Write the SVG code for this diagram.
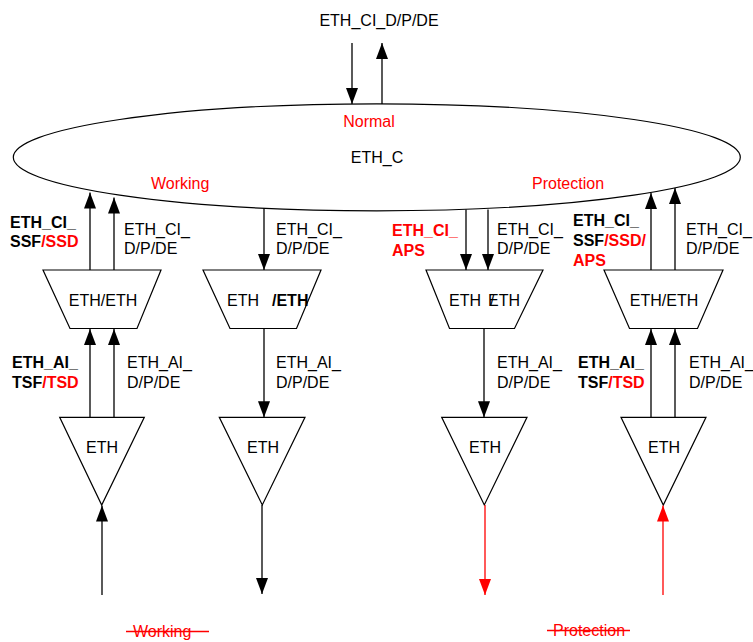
<svg xmlns="http://www.w3.org/2000/svg" width="753" height="642" viewBox="0 0 753 642">
  <style>
    .shape { fill: #ffffff; stroke: #000000; stroke-width: 1.2; }
    .conn { stroke: #000000; stroke-width: 1.3; fill: none; }
    .conn.red { stroke: #ff0000; }
    text { font-family: "Liberation Sans", Arial, sans-serif; font-size: 16px; fill: #000000; }
    .b { font-weight: bold; }
    .r { fill: #ff0000; }
    .mid { text-anchor: middle; }
  </style>
  <defs>
    <marker id="ah" markerUnits="userSpaceOnUse" markerWidth="16" markerHeight="12" viewBox="0 0 16 12" refX="16" refY="6" orient="auto">
      <path d="M0,0 L16,6 L0,12 Z" fill="#000000"/>
    </marker>
    <marker id="ahRed" markerUnits="userSpaceOnUse" markerWidth="16" markerHeight="12" viewBox="0 0 16 12" refX="16" refY="6" orient="auto">
      <path d="M0,0 L16,6 L0,12 Z" fill="#ff0000"/>
    </marker>
  </defs>

  <rect width="753" height="642" fill="#ffffff"/>

  <!-- connection function -->
  <g id="eth-c">
    <ellipse class="shape" cx="376.8" cy="157.3" rx="363.5" ry="53.5"/>
    <text class="mid r" x="369" y="127">Normal</text>
    <text class="mid" x="377" y="163">ETH_C</text>
    <text class="r" x="151" y="189">Working</text>
    <text class="r" x="532" y="189">Protection</text>
  </g>

  <text id="top-label" class="mid" x="379" y="26">ETH_CI_D/P/DE</text>

  <!-- adaptation functions -->
  <g id="adapt-w-sink">
    <polygon class="shape" points="43,270 161,270 137,328.5 70,328.5"/>
    <text class="mid" x="103" y="306">ETH/ETH</text>
  </g>
  <g id="adapt-w-src">
    <polygon class="shape" points="203,270 321,270 296.5,328.5 230,328.5"/>
    <text x="227" y="306">ETH   <tspan class="b" x="272">/ETH</tspan></text>
  </g>
  <g id="adapt-p-src">
    <polygon class="shape" points="426,270 543,270 514.5,328.5 449.5,328.5"/>
    <text x="449" y="306">ETH <tspan x="488">E</tspan><tspan dx="-8.7">/</tspan><tspan dx="4.2">TH</tspan></text>
  </g>
  <g id="adapt-p-sink">
    <polygon class="shape" points="604,270 723,270 697.5,328.5 629.5,328.5"/>
    <text class="mid" x="664" y="306">ETH/ETH</text>
  </g>

  <!-- trail termination functions -->
  <g id="tt-w-sink">
    <polygon class="shape" points="59.7,417.3 144.3,417.3 101.7,505"/>
    <text class="mid" x="102" y="453">ETH</text>
  </g>
  <g id="tt-w-src">
    <polygon class="shape" points="219.3,417.3 305,417.3 262.3,505"/>
    <text class="mid" x="263" y="453">ETH</text>
  </g>
  <g id="tt-p-src">
    <polygon class="shape" points="441.7,417.3 527,417.3 484.3,505"/>
    <text class="mid" x="485" y="453">ETH</text>
  </g>
  <g id="tt-p-sink">
    <polygon class="shape" points="621,417.3 706,417.3 663.3,505"/>
    <text class="mid" x="664" y="453">ETH</text>
  </g>

  <!-- signal flows -->
  <g id="connectors">
    <line class="conn" x1="352" y1="43" x2="352" y2="104" marker-end="url(#ah)"/>
    <line class="conn" x1="382" y1="104" x2="382" y2="43" marker-end="url(#ah)"/>

    <line class="conn" x1="90" y1="270" x2="90" y2="192.5" marker-end="url(#ah)"/>
    <line class="conn" x1="114" y1="270" x2="114" y2="197.5" marker-end="url(#ah)"/>
    <line class="conn" x1="264" y1="208" x2="264" y2="270" marker-end="url(#ah)"/>
    <line class="conn" x1="466" y1="209.5" x2="466" y2="270" marker-end="url(#ah)"/>
    <line class="conn" x1="488" y1="209.5" x2="488" y2="270" marker-end="url(#ah)"/>
    <line class="conn" x1="651" y1="270" x2="651" y2="193" marker-end="url(#ah)"/>
    <line class="conn" x1="675" y1="270" x2="675" y2="188" marker-end="url(#ah)"/>

    <line class="conn" x1="90" y1="417.3" x2="90" y2="329" marker-end="url(#ah)"/>
    <line class="conn" x1="114" y1="417.3" x2="114" y2="329" marker-end="url(#ah)"/>
    <line class="conn" x1="264" y1="328.5" x2="264" y2="417.3" marker-end="url(#ah)"/>
    <line class="conn" x1="484" y1="328.5" x2="484" y2="417.3" marker-end="url(#ah)"/>
    <line class="conn" x1="651" y1="417.3" x2="651" y2="329" marker-end="url(#ah)"/>
    <line class="conn" x1="675" y1="417.3" x2="675" y2="329" marker-end="url(#ah)"/>

    <line class="conn" x1="102" y1="595" x2="102" y2="505.5" marker-end="url(#ah)"/>
    <line class="conn" x1="262" y1="505" x2="262" y2="594" marker-end="url(#ah)"/>
    <line class="conn red" x1="485" y1="505" x2="485" y2="595" marker-end="url(#ahRed)"/>
    <line class="conn red" x1="663" y1="595" x2="663" y2="505.5" marker-end="url(#ahRed)"/>
  </g>

  <!-- characteristic information labels -->
  <g id="labels-ci">
    <text class="b" x="10" y="228">ETH_CI_</text>
    <text class="b" x="10" y="247">SSF<tspan class="r">/SSD</tspan></text>
    <text x="124" y="235">ETH_CI_</text>
    <text x="124" y="254">D/P/DE</text>

    <text x="276" y="235">ETH_CI_</text>
    <text x="276" y="254">D/P/DE</text>

    <text class="b r" x="392" y="236">ETH_CI_</text>
    <text class="b r" x="392" y="256">APS</text>
    <text x="497" y="235">ETH_CI_</text>
    <text x="497" y="254">D/P/DE</text>

    <text class="b" x="573" y="226">ETH_CI_</text>
    <text class="b" x="573" y="246">SSF<tspan class="r">/SSD/</tspan></text>
    <text class="b r" x="573" y="266">APS</text>
    <text x="686" y="235">ETH_CI_</text>
    <text x="686" y="254">D/P/DE</text>
  </g>

  <!-- adapted information labels -->
  <g id="labels-ai">
    <text class="b" x="12" y="368">ETH_AI_</text>
    <text class="b" x="12" y="388">TSF<tspan class="r">/TSD</tspan></text>
    <text x="127" y="368">ETH_AI_</text>
    <text x="127" y="388">D/P/DE</text>

    <text x="276" y="368">ETH_AI_</text>
    <text x="276" y="388">D/P/DE</text>

    <text x="497" y="368">ETH_AI_</text>
    <text x="497" y="388">D/P/DE</text>

    <text class="b" x="578" y="368">ETH_AI_</text>
    <text class="b" x="578" y="388">TSF<tspan class="r">/TSD</tspan></text>
    <text x="689" y="368">ETH_AI_</text>
    <text x="689" y="388">D/P/DE</text>
  </g>

  <!-- struck-out trail names -->
  <g id="trail-names">
    <text class="r" x="133" y="637">Working</text>
    <line x1="126" y1="631.5" x2="209" y2="631.5" stroke="#ff0000" stroke-width="1.3"/>
    <text class="r" x="553" y="636">Protection</text>
    <line x1="547" y1="630.5" x2="630" y2="630.5" stroke="#ff0000" stroke-width="1.3"/>
  </g>
</svg>
